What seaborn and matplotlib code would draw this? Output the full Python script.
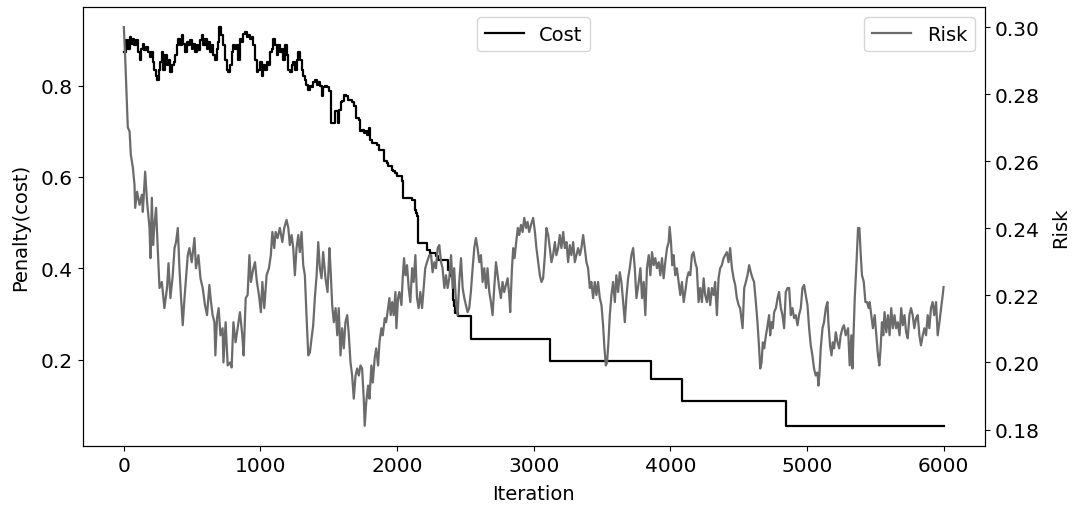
import matplotlib
matplotlib.use("Agg")
import matplotlib.pyplot as plt
import seaborn as sns
import pandas as pd

# ---- Cost (left axis, step line) ----
cost_iter = [0, 5, 17, 29, 42, 53, 66, 78, 90, 102, 115, 126, 139, 151, 163, 175, 188, 200, 212, 224,
             236, 243, 254, 268, 278, 290, 302, 314, 327, 341, 351, 365, 375, 390, 400, 414, 423, 436,
             448, 460, 473, 485, 496, 509, 521, 533, 546, 558, 570, 582, 594, 606, 619, 631, 643, 655,
             667, 679, 692, 699, 710, 723, 729, 740, 753, 765, 777, 789, 802, 813, 826, 838, 850, 862,
             875, 886, 899, 911, 923, 935, 948, 960, 972, 984, 996, 1008, 1021, 1032, 1045, 1057, 1069,
             1081, 1094, 1106, 1118, 1131, 1142, 1155, 1167, 1179, 1191, 1204, 1215, 1228, 1240, 1252,
             1264, 1277, 1288, 1301, 1313, 1325, 1337, 1350, 1362, 1374, 1386, 1398, 1411, 1423, 1435,
             1447, 1459, 1471, 1484, 1505, 1513, 1520, 1549, 1569, 1574, 1586, 1598, 1610, 1627, 1642,
             1671, 1683, 1696, 1720, 1732, 1744, 1756, 1768, 1780, 1792, 1799, 1816, 1853, 1865, 1901,
             1926, 1937, 1962, 1973, 1986, 1998, 2034, 2044, 2110, 2128, 2139, 2146, 2154, 2219, 2243,
             2285, 2297, 2370, 2395, 2407, 2418, 2426, 2443, 2540, 3120, 3859, 4085, 4845, 6000]
cost_val = [0.873, 0.873, 0.899, 0.879, 0.906, 0.890, 0.901, 0.888, 0.899, 0.873, 0.855, 0.879, 0.890,
            0.877, 0.884, 0.873, 0.862, 0.873, 0.851, 0.833, 0.822, 0.813, 0.835, 0.851, 0.873, 0.835,
            0.866, 0.844, 0.857, 0.829, 0.844, 0.851, 0.866, 0.888, 0.901, 0.888, 0.910, 0.890, 0.873,
            0.895, 0.888, 0.899, 0.879, 0.890, 0.873, 0.888, 0.877, 0.899, 0.910, 0.888, 0.901, 0.879,
            0.895, 0.873, 0.888, 0.866, 0.857, 0.879, 0.895, 0.928, 0.910, 0.895, 0.888, 0.857, 0.835,
            0.829, 0.844, 0.873, 0.888, 0.879, 0.888, 0.857, 0.901, 0.895, 0.912, 0.917, 0.906, 0.910,
            0.901, 0.906, 0.888, 0.857, 0.829, 0.835, 0.851, 0.822, 0.844, 0.835, 0.851, 0.846, 0.873,
            0.879, 0.901, 0.888, 0.866, 0.888, 0.873, 0.879, 0.857, 0.888, 0.866, 0.835, 0.829, 0.844,
            0.851, 0.835, 0.857, 0.873, 0.857, 0.835, 0.822, 0.813, 0.802, 0.791, 0.800, 0.796, 0.807,
            0.813, 0.802, 0.807, 0.800, 0.778, 0.796, 0.800, 0.796, 0.789, 0.763, 0.719, 0.745, 0.719,
            0.747, 0.763, 0.767, 0.780, 0.778, 0.769, 0.763, 0.756, 0.730, 0.725, 0.701, 0.703, 0.697,
            0.701, 0.692, 0.708, 0.681, 0.675, 0.670, 0.659, 0.635, 0.631, 0.624, 0.615, 0.613, 0.609,
            0.602, 0.591, 0.554, 0.550, 0.528, 0.521, 0.514, 0.455, 0.440, 0.433, 0.426, 0.418, 0.396,
            0.382, 0.330, 0.317, 0.301, 0.295, 0.246, 0.196, 0.158, 0.110, 0.055, 0.055]

# ---- Risk (right axis) ----
risk_iter = [0, 9, 29, 42, 51, 66, 78, 83, 97, 115, 132, 139, 156, 170, 188, 195, 205, 214, 224, 236,
             248, 261, 278, 297, 316, 327, 341, 358, 371, 382, 395, 407, 419, 431, 444, 468, 480, 497,
             517, 528, 546, 561, 577, 594, 609, 626, 638, 650, 663, 670, 682, 694, 707, 723, 729, 745,
             760, 777, 789, 802, 818, 833, 850, 867, 877, 892, 906, 919, 930, 948, 960, 974, 989, 1003,
             1014, 1028, 1045, 1062, 1076, 1087, 1101, 1111, 1125, 1142, 1160, 1174, 1191, 1204, 1215,
             1228, 1240, 1252, 1264, 1277, 1288, 1301, 1313, 1325, 1337, 1350, 1362, 1374, 1386, 1398,
             1411, 1423, 1435, 1447, 1459, 1476, 1491, 1505, 1513, 1525, 1537, 1550, 1562, 1573, 1586,
             1598, 1610, 1622, 1635, 1647, 1659, 1671, 1683, 1696, 1708, 1720, 1732, 1744, 1756, 1763,
             1774, 1788, 1798, 1812, 1822, 1836, 1847, 1861, 1871, 1885, 1895, 1910, 1920, 1934, 1944,
             1953, 1964, 1975, 1988, 1995, 2007, 2017, 2032, 2041, 2051, 2061, 2073, 2085, 2097, 2110,
             2121, 2134, 2146, 2158, 2170, 2183, 2195, 2206, 2219, 2236, 2249, 2260, 2273, 2285, 2297,
             2309, 2322, 2333, 2346, 2358, 2370, 2382, 2395, 2407, 2418, 2431, 2443, 2455, 2468, 2480,
             2492, 2504, 2516, 2528, 2540, 2553, 2565, 2577, 2589, 2602, 2614, 2626, 2638, 2651, 2662,
             2675, 2687, 2699, 2711, 2724, 2736, 2748, 2760, 2772, 2784, 2797, 2809, 2821, 2828, 2841,
             2850, 2860, 2872, 2884, 2894, 2907, 2919, 2931, 2944, 2955, 2967, 2980, 2996, 3009, 3020,
             3033, 3045, 3057, 3069, 3082, 3093, 3106, 3118, 3130, 3142, 3155, 3166, 3179, 3191, 3203,
             3216, 3228, 3240, 3252, 3264, 3276, 3289, 3301, 3313, 3325, 3338, 3349, 3362, 3374, 3386,
             3398, 3411, 3422, 3435, 3447, 3459, 3471, 3484, 3496, 3508, 3518, 3528, 3537, 3547, 3557,
             3569, 3581, 3594, 3605, 3618, 3630, 3642, 3655, 3667, 3678, 3691, 3703, 3715, 3728, 3740,
             3752, 3769, 3781, 3793, 3805, 3817, 3829, 3842, 3854, 3866, 3878, 3890, 3902, 3915, 3927,
             3939, 3951, 3963, 3976, 3988, 3995, 4005, 4014, 4024, 4036, 4048, 4061, 4073, 4085, 4098,
             4109, 4122, 4134, 4146, 4158, 4170, 4182, 4194, 4207, 4219, 4231, 4244, 4255, 4268, 4280,
             4292, 4304, 4317, 4328, 4341, 4353, 4365, 4377, 4390, 4402, 4414, 4426, 4438, 4451, 4463,
             4475, 4487, 4500, 4511, 4529, 4541, 4553, 4565, 4577, 4589, 4602, 4613, 4626, 4638, 4650,
             4658, 4668, 4677, 4687, 4700, 4712, 4723, 4731, 4741, 4750, 4760, 4773, 4785, 4796, 4809,
             4821, 4833, 4845, 4858, 4870, 4882, 4894, 4906, 4918, 4931, 4942, 4955, 4967, 4979, 4991,
             5004, 5016, 5028, 5040, 5052, 5064, 5077, 5084, 5091, 5101, 5114, 5125, 5138, 5150, 5157,
             5169, 5180, 5189, 5199, 5211, 5224, 5236, 5247, 5260, 5271, 5284, 5301, 5313, 5325, 5333,
             5342, 5350, 5362, 5374, 5384, 5394, 5403, 5416, 5428, 5440, 5452, 5459, 5471, 5483, 5496,
             5508, 5520, 5530, 5539, 5549, 5559, 5568, 5581, 5593, 5605, 5617, 5629, 5641, 5653, 5665,
             5678, 5690, 5702, 5714, 5726, 5738, 5750, 5762, 5774, 5786, 5799, 5811, 5823, 5835, 5848,
             5860, 5872, 5884, 5896, 5908, 5920, 5932, 5945, 5957, 5970, 5982, 5994, 6000]
risk_val = [0.3000, 0.2919, 0.2701, 0.2689, 0.2620, 0.2581, 0.2530, 0.2461, 0.2509, 0.2470, 0.2500,
            0.2449, 0.2569, 0.2479, 0.2401, 0.2311, 0.2491, 0.2350, 0.2410, 0.2461, 0.2341, 0.2222,
            0.2240, 0.2162, 0.2222, 0.2296, 0.2192, 0.2260, 0.2341, 0.2359, 0.2401, 0.2281, 0.2192,
            0.2111, 0.2192, 0.2320, 0.2341, 0.2299, 0.2371, 0.2281, 0.2320, 0.2251, 0.2222, 0.2171,
            0.2141, 0.2231, 0.2180, 0.2141, 0.2120, 0.2021, 0.2132, 0.2162, 0.2081, 0.2102, 0.2000,
            0.2120, 0.1991, 0.2000, 0.1985, 0.2120, 0.2060, 0.2102, 0.2150, 0.2081, 0.2021, 0.2192,
            0.2201, 0.2320, 0.2240, 0.2281, 0.2299, 0.2240, 0.2201, 0.2150, 0.2240, 0.2162, 0.2260,
            0.2281, 0.2320, 0.2389, 0.2341, 0.2389, 0.2371, 0.2401, 0.2359, 0.2401, 0.2425, 0.2401,
            0.2350, 0.2380, 0.2341, 0.2260, 0.2341, 0.2380, 0.2329, 0.2389, 0.2290, 0.2260, 0.2141,
            0.2021, 0.2030, 0.2072, 0.2111, 0.2192, 0.2260, 0.2359, 0.2281, 0.2251, 0.2329, 0.2251,
            0.2210, 0.2341, 0.2281, 0.2171, 0.2120, 0.2162, 0.2081, 0.2162, 0.2021, 0.2102, 0.2042,
            0.2120, 0.2141, 0.2081, 0.2000, 0.1961, 0.1892, 0.1961, 0.1982, 0.1961, 0.1991, 0.1982,
            0.1892, 0.1811, 0.1880, 0.1931, 0.1892, 0.1991, 0.1940, 0.2012, 0.2042, 0.1991, 0.2060,
            0.2102, 0.2081, 0.2132, 0.2120, 0.2162, 0.2192, 0.2141, 0.2180, 0.2141, 0.2210, 0.2102,
            0.2192, 0.2210, 0.2171, 0.2251, 0.2311, 0.2260, 0.2290, 0.2222, 0.2180, 0.2281, 0.2240,
            0.2320, 0.2192, 0.2162, 0.2210, 0.2162, 0.2222, 0.2281, 0.2299, 0.2320, 0.2320, 0.2269,
            0.2299, 0.2281, 0.2341, 0.2350, 0.2299, 0.2281, 0.2222, 0.2260, 0.2222, 0.2251, 0.2320,
            0.2222, 0.2281, 0.2180, 0.2141, 0.2240, 0.2311, 0.2222, 0.2192, 0.2171, 0.2150, 0.2162,
            0.2210, 0.2281, 0.2341, 0.2371, 0.2341, 0.2299, 0.2320, 0.2240, 0.2281, 0.2222, 0.2281,
            0.2210, 0.2180, 0.2141, 0.2222, 0.2299, 0.2260, 0.2222, 0.2192, 0.2240, 0.2210, 0.2231,
            0.2251, 0.2201, 0.2150, 0.2281, 0.2341, 0.2311, 0.2359, 0.2401, 0.2380, 0.2410, 0.2389,
            0.2431, 0.2401, 0.2419, 0.2389, 0.2410, 0.2431, 0.2389, 0.2341, 0.2299, 0.2260, 0.2240,
            0.2251, 0.2320, 0.2401, 0.2380, 0.2341, 0.2299, 0.2320, 0.2359, 0.2320, 0.2341, 0.2380,
            0.2341, 0.2389, 0.2341, 0.2359, 0.2299, 0.2350, 0.2320, 0.2359, 0.2299, 0.2320, 0.2341,
            0.2320, 0.2341, 0.2380, 0.2341, 0.2299, 0.2281, 0.2222, 0.2240, 0.2192, 0.2240, 0.2201,
            0.2240, 0.2192, 0.2171, 0.2111, 0.2042, 0.1991, 0.2000, 0.2060, 0.2141, 0.2201, 0.2240,
            0.2180, 0.2260, 0.2210, 0.2269, 0.2240, 0.2180, 0.2120, 0.2192, 0.2251, 0.2281, 0.2320,
            0.2341, 0.2281, 0.2192, 0.2240, 0.2281, 0.2192, 0.2240, 0.2141, 0.2281, 0.2320, 0.2260,
            0.2329, 0.2290, 0.2311, 0.2281, 0.2299, 0.2260, 0.2311, 0.2251, 0.2299, 0.2341, 0.2359,
            0.2404, 0.2359, 0.2290, 0.2320, 0.2260, 0.2281, 0.2240, 0.2201, 0.2240, 0.2180, 0.2210,
            0.2251, 0.2269, 0.2260, 0.2320, 0.2329, 0.2299, 0.2281, 0.2180, 0.2222, 0.2180, 0.2251,
            0.2201, 0.2180, 0.2222, 0.2171, 0.2222, 0.2201, 0.2240, 0.2141, 0.2251, 0.2281, 0.2290,
            0.2311, 0.2320, 0.2329, 0.2299, 0.2341, 0.2281, 0.2251, 0.2231, 0.2192, 0.2171, 0.2162,
            0.2102, 0.2222, 0.2240, 0.2260, 0.2290, 0.2269, 0.2251, 0.2240, 0.2180, 0.2120, 0.2042,
            0.1982, 0.2000, 0.2060, 0.2042, 0.2081, 0.2111, 0.2141, 0.2081, 0.2120, 0.2102, 0.2150,
            0.2162, 0.2192, 0.2210, 0.2162, 0.2141, 0.2102, 0.2210, 0.2222, 0.2222, 0.2141, 0.2162,
            0.2132, 0.2141, 0.2111, 0.2141, 0.2162, 0.2222, 0.2231, 0.2201, 0.2171, 0.2102, 0.2051,
            0.2021, 0.1982, 0.1961, 0.1970, 0.1931, 0.1961, 0.2042, 0.2102, 0.2120, 0.2162, 0.2180,
            0.2120, 0.2051, 0.2021, 0.2060, 0.2042, 0.2090, 0.2060, 0.2042, 0.2081, 0.2102, 0.2111,
            0.2081, 0.2102, 0.1991, 0.2081, 0.1982, 0.2090, 0.2192, 0.2290, 0.2401, 0.2401, 0.2320,
            0.2260, 0.2240, 0.2180, 0.2180, 0.2162, 0.2180, 0.2141, 0.2102, 0.2141, 0.2081, 0.2021,
            0.1991, 0.2042, 0.2120, 0.2081, 0.2150, 0.2090, 0.2141, 0.2081, 0.2162, 0.2102, 0.2141,
            0.2102, 0.2120, 0.2081, 0.2162, 0.2111, 0.2141, 0.2090, 0.2072, 0.2141, 0.2162, 0.2141,
            0.2102, 0.2132, 0.2141, 0.2081, 0.2051, 0.2081, 0.2102, 0.2081, 0.2141, 0.2102, 0.2162,
            0.2180, 0.2141, 0.2180, 0.2081, 0.2120, 0.2162, 0.2201, 0.2225]

x_ticks = [0, 1000, 2000, 3000, 4000, 5000, 6000]
left_ticks = [0.2, 0.4, 0.6, 0.8]
right_ticks = [0.18, 0.20, 0.22, 0.24, 0.26, 0.28, 0.30]

cost_df = pd.DataFrame({"Iteration": cost_iter, "Cost": cost_val})
risk_df = pd.DataFrame({"Iteration": risk_iter, "Risk": risk_val})

plt.rcParams["font.family"] = ["DejaVu Sans"]
TFS = 14.5
LFS = 14

fig, ax = plt.subplots(figsize=(10.76, 5.10), dpi=100)
fig.subplots_adjust(left=0.077, right=0.915, top=0.984, bottom=0.124)

sns.lineplot(data=cost_df, x="Iteration", y="Cost", ax=ax, color="black", linewidth=1.6,
             drawstyle="steps-post", estimator=None, sort=False, label="Cost")
ax2 = ax.twinx()
sns.lineplot(data=risk_df, x="Iteration", y="Risk", ax=ax2, color="#6b6b6b", linewidth=1.6,
             estimator=None, sort=False, label="Risk")

ax.set_xticks(x_ticks)
ax.set_yticks(left_ticks)
ax2.set_yticks(right_ticks)
ax.set_xlabel("Iteration", fontsize=LFS, labelpad=6)
ax.set_ylabel("Penalty(cost)", fontsize=LFS, labelpad=7)
ax2.set_ylabel("Risk", fontsize=LFS, labelpad=8)
ax.tick_params(labelsize=TFS, pad=4)
ax2.tick_params(labelsize=TFS, pad=4)

ax.legend(loc="upper center", fontsize=LFS)
ax2.legend(loc="upper right", fontsize=LFS)

fig.savefig("out.png", dpi=100)
